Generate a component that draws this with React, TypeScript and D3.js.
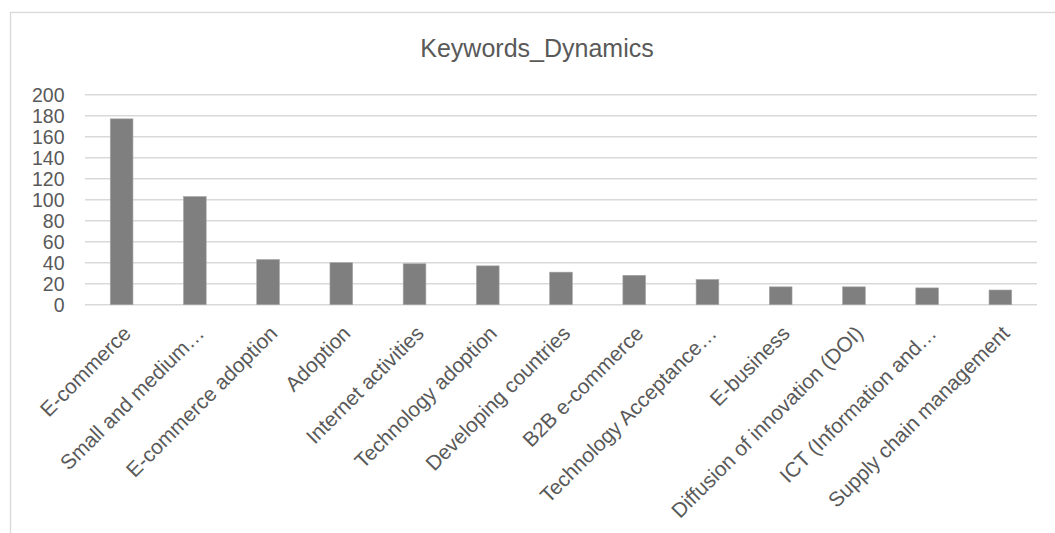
import React from "react";
import * as d3 from "d3";

const categories: string[] = [
  "E-commerce",
  "Small and medium…",
  "E-commerce adoption",
  "Adoption",
  "Internet activities",
  "Technology adoption",
  "Developing countries",
  "B2B e-commerce",
  "Technology Acceptance…",
  "E-business",
  "Diffusion of innovation (DOI)",
  "ICT (Information and…",
  "Supply chain management",
];

const counts: number[] = [177, 103, 43, 40, 39, 37, 31, 28, 24, 17, 17, 16, 14];

const yTicks: number[] = [0, 20, 40, 60, 80, 100, 120, 140, 160, 180, 200];

const chartTitle = "Keywords_Dynamics";

const W = 1055;
const H = 533;
const plot = { left: 85, right: 1037, top: 94.7, bottom: 304.7 };
const FONT = "'Liberation Sans', Arial, sans-serif";
const TICK_SIZE = 19.5;
const CAT_SIZE = 20.8;

export default function App() {
  const x = d3
    .scaleBand<number>()
    .domain(d3.range(categories.length))
    .range([plot.left, plot.right])
    .paddingInner(0.69)
    .paddingOuter(0.345);
  const y = d3.scaleLinear().domain([0, 200]).range([plot.bottom, plot.top]);

  return (
    <svg
      width={W}
      height={H}
      style={{ position: "fixed", left: 0, top: 0, background: "#fff" }}
      fontFamily={FONT}
    >
      {/* chart frame */}
      <rect x={10.5} y={12.5} width={W + 10} height={H + 10} fill="#fff" stroke="#d9d9d9" strokeWidth={1.3} />

      <text x={537} y={56.5} textAnchor="middle" fontSize={25} fill="#595959">
        {chartTitle}
      </text>

      {/* grid lines */}
      {yTicks.map((t) => (
        <line key={"g" + t} x1={plot.left} x2={plot.right} y1={y(t)} y2={y(t)} stroke="#d9d9d9" strokeWidth={1.4} />
      ))}

      {/* y tick labels */}
      {yTicks.map((t) => (
        <text key={"yl" + t} x={64.5} y={y(t) + 7} textAnchor="end" fontSize={TICK_SIZE} fill="#595959">
          {t}
        </text>
      ))}

      {/* bars */}
      {counts.map((v, i) => (
        <rect
          key={"b" + i}
          x={x(i)}
          y={y(v)}
          width={x.bandwidth()}
          height={y(0) - y(v)}
          fill="#7f7f7f"
          stroke="#a5a5a5"
          strokeWidth={0.6}
        />
      ))}

      {/* category labels, rotated and right-aligned under each bar */}
      {categories.map((c, i) => {
        const cx = (x(i) as number) + x.bandwidth() / 2 + 10.5;
        const cy = plot.bottom + 30;
        return (
          <text
            key={"c" + i}
            transform={`translate(${cx},${cy}) rotate(-45)`}
            textAnchor="end"
            fontSize={CAT_SIZE}
            fill="#595959"
          >
            {c}
          </text>
        );
      })}
    </svg>
  );
}
